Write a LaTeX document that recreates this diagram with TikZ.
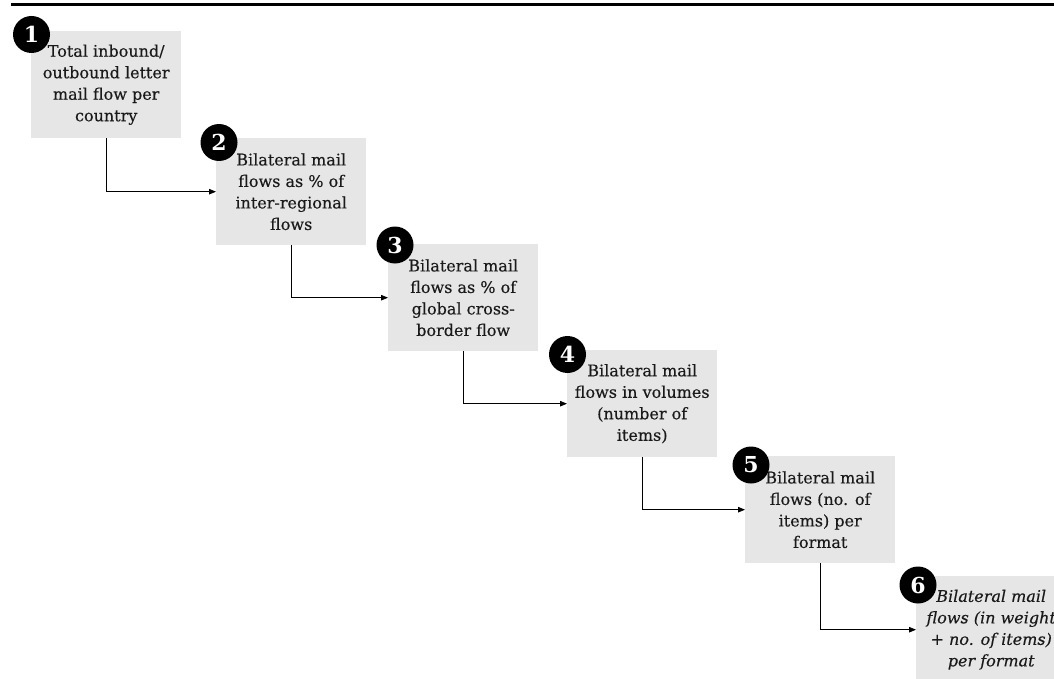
\documentclass[tikz,border=0pt]{standalone}
\usepackage{fontspec}
\setmainfont{DejaVu Serif}
\usetikzlibrary{arrows.meta}
\definecolor{boxgray}{HTML}{E6E6E6}
\definecolor{txt}{HTML}{1A1A1A}
\tikzset{
  stepbox/.style={fill=boxgray, draw=none, anchor=north west, minimum width=150pt, minimum height=107pt,
    align=center, inner sep=0pt, text=txt, font=\fontsize{16}{21.5}\selectfont\addfontfeature{FakeBold=0.3}},
  badge/.style={circle, fill=black, minimum size=37pt, inner sep=0pt, text=white,
    font=\fontsize{22}{22}\selectfont\bfseries},
  arr/.style={line width=0.8pt, -{Triangle[length=7pt,width=5.5pt]}}
}
\begin{document}
\begin{tikzpicture}[x=1pt,y=-1pt]
\useasboundingbox (0,0) rectangle (1054,679);
\clip (0,0) rectangle (1054,679);
\draw[line width=2.4pt] (11,4.5) -- (1054,4.5);

\node[stepbox] (b1) at (31,31) {Total inbound/\\outbound letter\\mail flow per\\country};
\node[stepbox] (b2) at (216,138) {Bilateral mail\\flows as \% of\\inter-regional\\flows};
\node[stepbox] (b3) at (388,244) {Bilateral mail\\flows as \% of\\global cross-\\border flow};
\node[stepbox] (b4) at (567,350) {Bilateral mail\\flows in volumes\\(number of\\items)};
\node[stepbox] (b5) at (745,456) {Bilateral mail\\flows (no. of\\items) per\\format};
\node[stepbox, font=\fontsize{16}{21.5}\selectfont\itshape\addfontfeature{FakeBold=0.3}] (b6) at (916,576) {Bilateral mail\\flows (in weight\\+ no. of items)\\per format};

\draw[arr] (b1.south) |- (b2.west);
\draw[arr] (b2.south) |- (b3.west);
\draw[arr] (b3.south) |- (b4.west);
\draw[arr] (b4.south) |- (b5.west);
\draw[arr] (b5.south) |- (b6.west);

\node[badge] (n1) at (31.5,34.5) {1};
\node[badge] (n2) at (219,142.5) {2};
\node[badge] (n3) at (395,245) {3};
\node[badge] (n4) at (567.5,354.5) {4};
\node[badge] (n5) at (751,465) {5};
\node[badge] (n6) at (918,585) {6};
\end{tikzpicture}
\end{document}
